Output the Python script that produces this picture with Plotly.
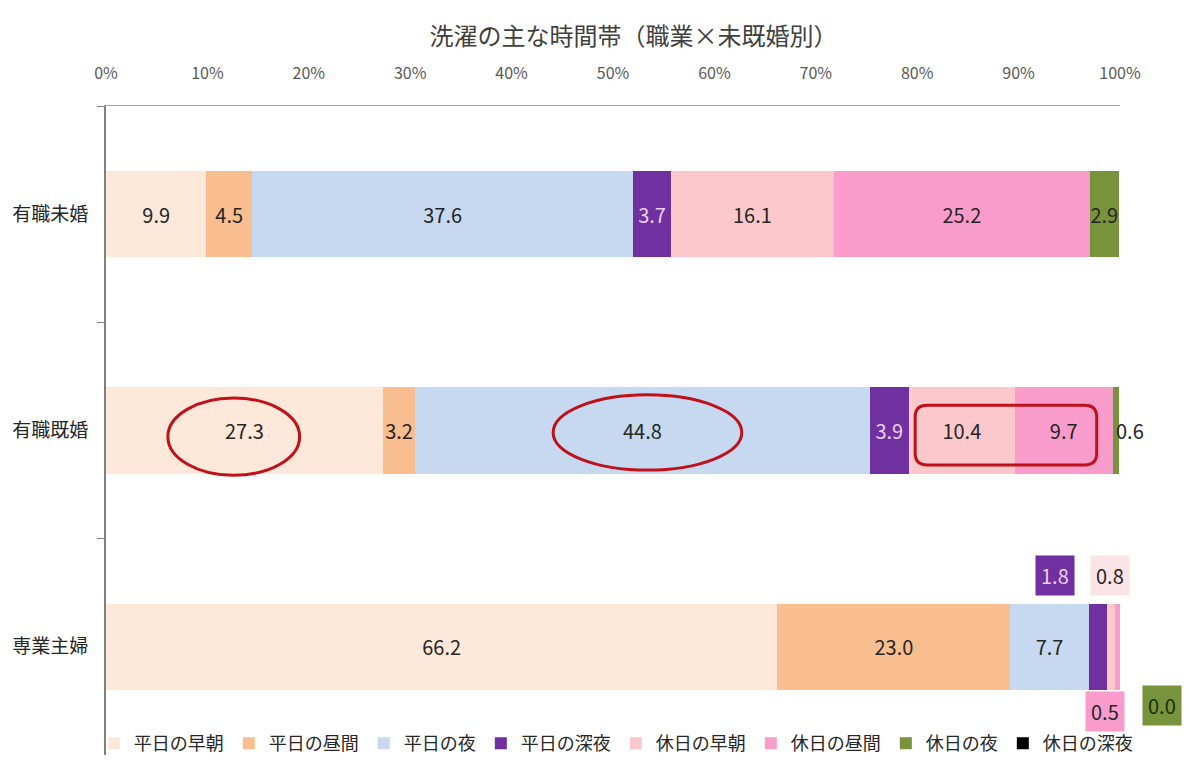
import plotly.graph_objects as go

categories = ["有職未婚", "有職既婚", "専業主婦"]
series_names = ["平日の早朝", "平日の昼間", "平日の夜", "平日の深夜",
                "休日の早朝", "休日の昼間", "休日の夜", "休日の深夜"]
v_mikon = [9.9, 4.5, 37.6, 3.7, 16.1, 25.2, 2.9, 0.0]
v_kikon = [27.3, 3.2, 44.8, 3.9, 10.4, 9.7, 0.6, 0.0]
v_shufu = [66.2, 23.0, 7.7, 1.8, 0.8, 0.5, 0.0, 0.0]
colors = ["#FDE8DA", "#F9BE8F", "#C6D9F1", "#7030A0",
          "#FCC8CC", "#F99BCB", "#77933C", "#000000"]
text_colors = ["#262626", "#262626", "#262626", "#E6D2F2",
               "#262626", "#262626", "#262626", "#FFFFFF"]
x_ticks = [0, 10, 20, 30, 40, 50, 60, 70, 80, 90, 100]

rows = [v_mikon, v_kikon, v_shufu]
FONT = "Noto Sans CJK JP, Noto Sans, sans-serif"

fig = go.Figure()
for i, name in enumerate(series_names):
    vals = [r[i] for r in rows]
    texts = []
    for ci, v in enumerate(vals):
        if v == 0 or (ci == 2 and v < 2) or (ci == 1 and v < 1):
            texts.append("")
        else:
            texts.append(f"{v:.1f}")
    fig.add_trace(go.Bar(
        y=categories, x=vals, name=name, orientation="h",
        marker=dict(color=colors[i], line=dict(width=0)),
        text=texts, textposition="inside", insidetextanchor="middle",
        constraintext="none", textangle=0,
        textfont=dict(family=FONT, size=20, color=text_colors[i]),
        hoverinfo="skip",
    ))

def seg_center(row, idx):
    return sum(row[:idx]) + row[idx] / 2

ann = []
# small labels for 専業主婦
small = [
    (3, -43, 71, "#7030A0", "#E6D2F2"),
    (4, -1, 71, "#FCE4E6", "#262626"),
    (5, -12, -65, "#F99BCB", "#262626"),
    (6, 42, -59, "#77933C", "#1B3008"),
]
for idx, xs, ys, bg, fc in small:
    ann.append(dict(x=seg_center(v_shufu, idx), y=categories[2], xref="x", yref="y",
                    text=f"{v_shufu[idx]:.1f}", showarrow=False, xshift=xs, yshift=ys,
                    bgcolor=bg, borderpad=5,
                    font=dict(family=FONT, size=20, color=fc)))
# 0.6 label for 有職既婚
ann.append(dict(x=seg_center(v_kikon, 6), y=categories[1], xref="x", yref="y",
                text=f"{v_kikon[6]:.1f}", showarrow=False, xshift=14,
                font=dict(family=FONT, size=20, color="#262626")))

red = "#C0101A"
shapes = [
    dict(type="circle", xref="x", yref="y domain", x0=6.1, x1=19.1, y0=0.431, y1=0.550,
         line=dict(color=red, width=3)),
    dict(type="circle", xref="x", yref="y domain", x0=44.1, x1=62.7, y0=0.439, y1=0.555,
         line=dict(color=red, width=3)),
]
x0, x1, y0, y1 = 79.8, 97.7, 0.447, 0.539
rx, ry = 1.2, 0.018
path = (f"M {x0+rx},{y1} L {x1-rx},{y1} Q {x1},{y1} {x1},{y1-ry} "
        f"L {x1},{y0+ry} Q {x1},{y0} {x1-rx},{y0} L {x0+rx},{y0} "
        f"Q {x0},{y0} {x0},{y0+ry} L {x0},{y1-ry} Q {x0},{y1} {x0+rx},{y1} Z")
shapes.append(dict(type="path", xref="x", yref="y domain", path=path,
                   line=dict(color=red, width=3)))

fig.update_layout(
    width=1200, height=775,
    barmode="stack", bargap=0.6,
    plot_bgcolor="white", paper_bgcolor="white",
    margin=dict(l=106, r=80, t=106, b=13),
    title=dict(text="洗濯の主な時間帯（職業×未既婚別）", x=0.528, xref="container",
               y=1 - 37 / 775, yanchor="middle", xanchor="center",
               font=dict(family=FONT, size=24, color="#404040")),
    xaxis=dict(side="top", range=[0, 100], tickvals=x_ticks,
               ticktext=[f"{t}%" for t in x_ticks], showgrid=False, zeroline=False,
               showline=True, linecolor="#A6A6A6", linewidth=1, ticks="",
               ticklabelstandoff=20,
               tickfont=dict(family=FONT, size=16, color="#595959")),
    yaxis=dict(autorange="reversed", showgrid=False, showline=True,
               domain=[7 / 656, 1],
               linecolor="#808080", linewidth=2, ticks="outside", tickson="boundaries",
               ticklen=7, tickcolor="#808080", ticklabelstandoff=12,
               tickfont=dict(family=FONT, size=19, color="#262626")),
    legend=dict(orientation="h", x=-0.012, xanchor="left", y=-0.0001, yanchor="bottom",
                yref="paper", font=dict(family=FONT, size=18, color="#262626"),
                bgcolor="rgba(0,0,0,0)", itemwidth=30, traceorder="normal"),
    annotations=ann, shapes=shapes,
    showlegend=True,
)
fig.write_html("out.html")
